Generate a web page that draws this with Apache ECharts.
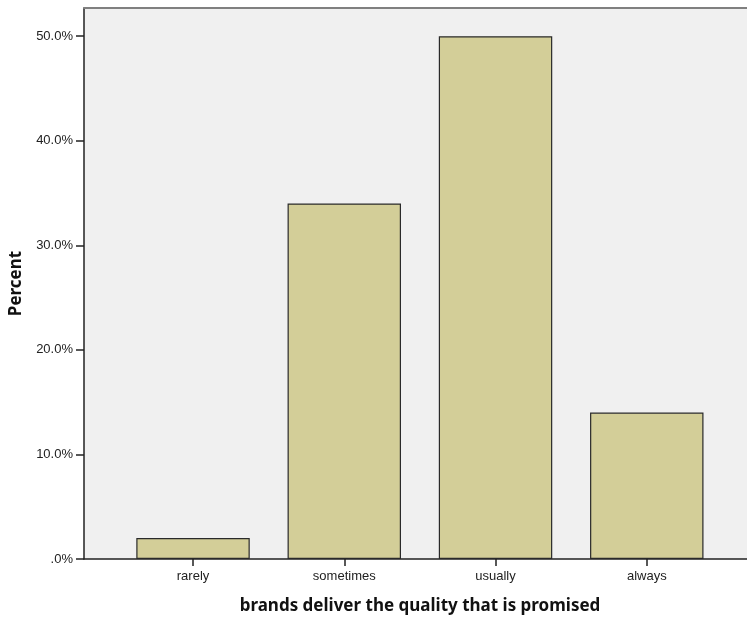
<!DOCTYPE html>
<html><head><meta charset="utf-8">
<script src="https://cdn.jsdelivr.net/npm/echarts@6/dist/echarts.min.js"></script>
<style>html,body{margin:0;padding:0;background:#fff}#c{width:747px;height:618px}</style>
</head><body><div id="c"></div>
<script>
const categories = ['rarely', 'sometimes', 'usually', 'always'];
const percentValues = [2.0, 34.0, 50.0, 14.0];
const yTicks = [0, 10, 20, 30, 40, 50];
const yMax = 52.7;
const xTitle = 'brands deliver the quality that is promised';
const yTitle = 'Percent';

const chart = echarts.init(document.getElementById('c'), null, {renderer: 'canvas'});
const labelFont = {fontFamily: 'Liberation Sans, Arial, sans-serif', fontSize: 13, color: '#222'};
const titleFont = {fontFamily: 'Noto Sans, DejaVu Sans, sans-serif', fontWeight: 'bold', fontSize: 17, color: '#111'};
chart.setOption({
  animation: false,
  grid: [
    {left: 84, right: 0, top: 8, bottom: 59, show: true, backgroundColor: '#f0f0f0', borderWidth: 0, containLabel: false, outerBoundsMode: 'none'},
    {left: 117.4, width: 605, top: 8, bottom: 59, containLabel: false, outerBoundsMode: 'none'}
  ],
  xAxis: [
    {gridIndex: 0, type: 'value', min: 0, max: 1, position: 'bottom',
     axisLine: {show: true, lineStyle: {color: '#222', width: 1.5}},
     axisTick: {show: false}, axisLabel: {show: false}, splitLine: {show: false},
     name: xTitle, nameLocation: 'middle', nameGap: 39,
     nameTextStyle: Object.assign({padding: [0, 0, 0, 9]}, titleFont)},
    {gridIndex: 1, type: 'category', data: categories, position: 'bottom',
     axisLine: {show: false},
     axisTick: {show: true, alignWithLabel: true, length: 7, lineStyle: {color: '#222', width: 1.5}},
     axisLabel: Object.assign({margin: 11}, labelFont)},
    {gridIndex: 0, type: 'value', min: 0, max: 1, position: 'top',
     axisLine: {show: true, lineStyle: {color: '#808080', width: 2}},
     axisTick: {show: false}, axisLabel: {show: false}, splitLine: {show: false}}
  ],
  yAxis: [
    {gridIndex: 0, type: 'value', min: 0, max: yMax, interval: 10,
     axisLine: {show: true, lineStyle: {color: '#222', width: 1.5}},
     axisTick: {show: true, length: 8, lineStyle: {color: '#222', width: 1.5}},
     axisLabel: Object.assign({margin: 11, showMaxLabel: false,
       formatter: v => yTicks.includes(v) ? (v === 0 ? '.0%' : v.toFixed(1) + '%') : ''}, labelFont),
     splitLine: {show: false},
     name: yTitle, nameLocation: 'middle', nameGap: 59, nameTextStyle: titleFont},
    {gridIndex: 1, type: 'value', min: 0, max: yMax, show: false}
  ],
  series: [{
    type: 'bar', xAxisIndex: 1, yAxisIndex: 1, data: percentValues,
    barCategoryGap: '25%',
    itemStyle: {color: '#d3ce98', borderColor: '#2a2a2a', borderWidth: 1.2}
  }]
});
</script></body></html>
